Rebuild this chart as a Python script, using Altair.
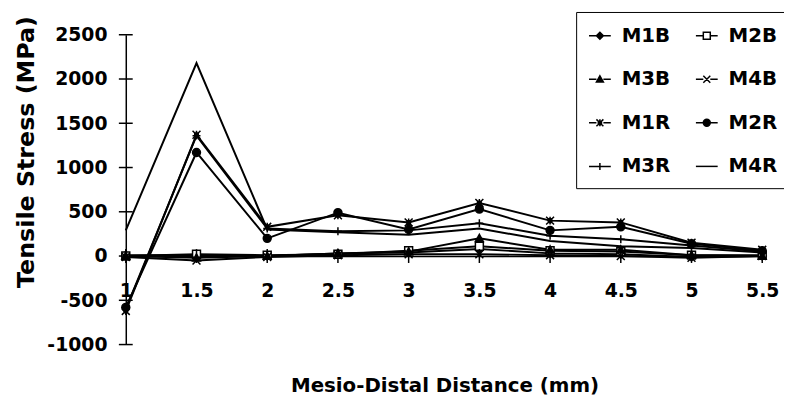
import altair as alt
import pandas as pd

# ---- data ----
distance = [1, 1.5, 2, 2.5, 3, 3.5, 4, 4.5, 5, 5.5]
series_names = ["M1B", "M2B", "M3B", "M4B", "M1R", "M2R", "M3R", "M4R"]
m1b = [10, 10, 0, 30, 40, 80, 30, 20, -10, 0]
m2b = [0, 20, 10, 20, 60, 110, 60, 50, 10, 10]
m3b = [0, -20, 0, 30, 50, 200, 70, 70, 10, 0]
m4b = [-10, -50, -10, 10, 20, 20, 10, 0, -20, 0]
m1r = [-620, 1370, 330, 460, 380, 600, 400, 380, 150, 70]
m2r = [-580, 1170, 200, 490, 300, 530, 290, 330, 140, 60]
m3r = [-600, 1360, 310, 280, 290, 370, 230, 190, 120, 50]
m4r = [290, 2180, 300, 270, 240, 310, 170, 110, 90, 40]
y_ticks = [-1000, -500, 0, 500, 1000, 1500, 2000, 2500]

all_values = [m1b, m2b, m3b, m4b, m1r, m2r, m3r, m4r]
rows = []
for name, vals in zip(series_names, all_values):
    for d, v in zip(distance, vals):
        rows.append({"series": name, "distance": d, "stress": v})
df = pd.DataFrame(rows)

# ---- marker styles (per series) ----
kinds = ["diamond", "square", "triangle", "cross", "asterisk", "circle", "plus", "none"]
fills = ["black", "white", "black", "black", "black", "black", "black", "black"]


def marker(kind, s):
    if kind == "diamond":
        return f"M0,{-s}L{s},0L0,{s}L{-s},0Z"
    if kind == "square":
        return f"M{-s},{-s}H{s}V{s}H{-s}Z"
    if kind == "triangle":
        return f"M0,{-s}L{s},{s*0.8}L{-s},{s*0.8}Z"
    if kind == "cross":
        return f"M{-s},{-s}L{s},{s}M{-s},{s}L{s},{-s}"
    if kind == "asterisk":
        h = s * 0.45
        return (f"M{-s},{-s}L{s},{s}M{-s},{s}L{s},{-s}M0,{-s}V{s}"
                f"M{-h},{-h}H{h}V{h}H{-h}Z")
    if kind == "circle":
        return f"M{s},0A{s},{s},0,1,1,{-s},0A{s},{s},0,1,1,{s},0Z"
    if kind == "plus":
        return f"M{-s},0H{s}M0,{-s}V{s}"
    return "M0,0"


def legend_symbol(kind, s):
    if kind in ("plus", "none"):
        return "M-1,0H1" + marker(kind, s)
    return f"M-1,0H{-s}M{s},0H1" + marker(kind, s)


plot_shapes = [marker(k, 1) for k in kinds]
legend_shapes = [legend_symbol(k, 0.32) for k in kinds]

# the legend fills its columns top to bottom: list it so it reads row by row
legend_order = series_names[0::2] + series_names[1::2]
legend_range = [legend_shapes[series_names.index(n)] for n in legend_order]
legend_fills = [fills[series_names.index(n)] for n in legend_order]

FONT = "DejaVu Sans"

x_scale = alt.Scale(domain=[1, 5.5], nice=False, zero=False)
y_scale = alt.Scale(domain=[-1000, 2500], nice=False, zero=False)

x_axis = alt.Axis(
    values=distance, format="~g", ticks=False, grid=False, offset=-89.43,
    domainColor="black", domainWidth=1.5,
    labelFont=FONT, labelFontWeight="bold", labelFontSize=19, labelColor="black",
    labelPadding=26, labelFlush=False,
    title="Mesio-Distal Distance (mm)", titleFont=FONT, titleFontWeight="bold",
    titleFontSize=20, titleColor="black", titleX=322, titleY=131,
    titleAlign="center", titleBaseline="middle",
)
y_axis = alt.Axis(
    values=y_ticks, labelExpr="'' + datum.value", ticks=False, grid=False,
    domainColor="black", domainWidth=1.5,
    labelFont=FONT, labelFontWeight="bold", labelFontSize=19, labelColor="black",
    labelPadding=19, labelFlush=False,
    title="Tensile Stress (MPa)", titleFont=FONT, titleFontWeight="bold",
    titleFontSize=24, titleColor="black", titleAngle=270, titleX=-100, titleY=118,
    titleAlign="center", titleBaseline="middle",
)

base = alt.Chart(df)

lines = base.mark_line(color="black", strokeWidth=2).encode(
    x=alt.X("distance:Q", scale=x_scale, axis=x_axis),
    y=alt.Y("stress:Q", scale=y_scale, axis=y_axis),
    detail="series:N",
)

points = base.mark_point(filled=True, stroke="black", strokeWidth=1.5, size=64, opacity=1).encode(
    x=alt.X("distance:Q", scale=x_scale),
    y=alt.Y("stress:Q", scale=y_scale),
    shape=alt.Shape("series:N", scale=alt.Scale(domain=series_names, range=plot_shapes), legend=None),
    fill=alt.Fill("series:N", scale=alt.Scale(domain=series_names, range=fills), legend=None),
)

legend = alt.Legend(
    orient="none", legendX=455, legendY=-23, columns=2, title=None,
    symbolSize=484, symbolStrokeColor="black", symbolStrokeWidth=1.5, symbolOpacity=1,
    labelFont=FONT, labelFontWeight="bold", labelFontSize=20, labelColor="black",
    labelOffset=10, columnPadding=22, rowPadding=22, padding=12,
    strokeColor="black", fillColor="white",
)
legend_layer = base.mark_point(filled=True, strokeWidth=1.5, size=484, opacity=0).encode(
    x=alt.X("distance:Q", scale=x_scale),
    y=alt.Y("stress:Q", scale=y_scale),
    shape=alt.Shape("series:N", scale=alt.Scale(domain=legend_order, range=legend_range), legend=legend),
    fill=alt.Fill("series:N", scale=alt.Scale(domain=legend_order, range=legend_fills), legend=legend),
    stroke=alt.Stroke("series:N", scale=alt.Scale(domain=legend_order, range=["black"] * len(legend_order)), legend=legend),
)

xtick_df = pd.DataFrame({"distance": distance})
ytick_df = pd.DataFrame({"stress": y_ticks})

x_ticks = alt.Chart(xtick_df).mark_tick(orient="vertical", size=14, thickness=1.5, color="black", opacity=1).encode(
    x=alt.X("distance:Q", scale=x_scale),
    y=alt.Y(datum=0, scale=y_scale),
)
y_ticks_layer = alt.Chart(ytick_df).mark_tick(orient="horizontal", size=14, thickness=1.5, color="black", opacity=1).encode(
    y=alt.Y("stress:Q", scale=y_scale),
    x=alt.X(datum=1, scale=x_scale),
)

chart = alt.layer(lines, points, x_ticks, y_ticks_layer, legend_layer).resolve_scale(
    shape="independent", fill="independent", stroke="independent"
).properties(
    width=643, height=313,
    padding={"left": 119, "top": 25, "right": 22, "bottom": 55},
    autosize=alt.AutoSizeParams(type="none"),
    background="white",
).configure_view(stroke=None)

chart.save("out.html", embed_options={"renderer": "svg", "actions": False})
